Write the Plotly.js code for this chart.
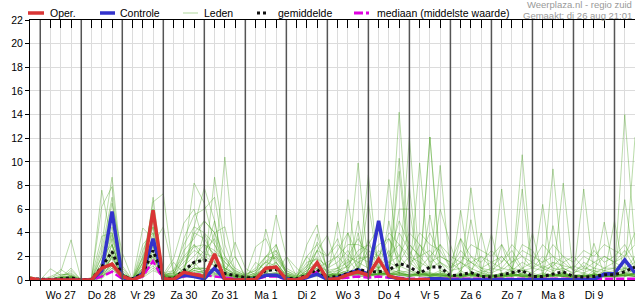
<!DOCTYPE html>
<html><head><meta charset="utf-8">
<script src="https://cdn.plot.ly/plotly-3.0.1.min.js"></script>
<style>html,body{margin:0;padding:0;background:#fff}#chart{width:635px;height:300px}</style>
</head><body><div id="chart"></div>
<script>
// ---- time axis: 6-hourly steps starting Aug 26 18:00 ----
const startUTC = Date.UTC(2025, 7, 26, 18);
const nSteps = 60;
const dayLabels = ["Wo 27","Do 28","Vr 29","Za 30","Zo 31","Ma 1","Di 2","Wo 3","Do 4","Vr 5","Za 6","Zo 7","Ma 8","Di 9"];

// ---- series ----
const oper = [0.15, 0,0,0,0.05, 0,0,1.0,1.35, 0.3,0,0.4,5.9, 0.1,0.05,0.65,0.45, 0.3,2.2,0.05,0, 0,0.05,1.0,1.1, 0.05,0,0.3,1.47, 0.05,0.1,0.45,0.7, 0.4,1.78,0.35,0.1, 0,0,0.05];
const controle = [0.05, 0,0,0,0, 0,0,0.8,5.8, 0.2,0,0.55,3.5, 0.05,0.05,0.4,0.3, 0.1,1.0,0.05,0, 0,0.1,0.4,0.4, 0.1,0,0.2,0.5, 0.05,0.2,0.5,0.85, 0.5,5.0,0.3,0.1, 0,0,0.1,0.1, 0,0,0,0, 0,0,0,0, 0,0,0,0, 0,0,0.05,0.5, 0.55,1.7,0.6];
const gemiddelde = [0.1, 0.05,0.05,0.1,0.2, 0,0.05,1.1,2.4, 0.35,0.1,0.56,2.5, 0.2,0.1,0.8,1.5, 1.7,1.3,0.55,0.4, 0.2,0.2,0.8,0.9, 0.15,0.1,0.4,0.9, 0.2,0.3,0.56,0.9, 0.7,0.7,0.85,1.4, 1.13,0.55,1.1,1.1, 0.35,0.45,0.62,0.3, 0.25,0.45,0.6,0.8, 0.3,0.3,0.5,0.7, 0.3,0.25,0.3,0.45, 0.45,0.7,1.1];
const mediaan = [0.05, 0,0,0,0.05, 0,0,0.3,0.7, 0.1,0,0.3,1.6, 0.05,0.05,0.3,0.5, 0.4,0.3,0.2,0.1, 0,0.05,0.3,0.3, 0.05,0,0.2,0.7, 0.1,0.1,0.2,0.3, 0.2,0.3,0.2,0.2, 0.1,0.1,0.1,0.1, 0.05,0.05,0.1,0.05, 0.05,0.05,0.05,0.05, 0.05,0.05,0.05,0.05, 0.05,0.05,0.05,0.05, 0.05,0.1,0.1];

const lid01 = [0.2, 0,0,0.9,0.3, 0,0,7.6,3.0, 0.5,0,2.0,6.0, 0.5,0.2,1.0,3.0, 1.5,4.0,0.8,0.2, 0,0.5,1.0,0.8, 0.2,0,0.5,1.2, 0.3,0.8,0.4,1.5, 2.0,0.5,0.8,14.2, 2.0,0.8,0.3,0.5, 0.1,0.8,0.3,0.2, 0,0.5,1.0,0.4, 0.2,0.3,1.5,0.5, 0.1,0.2,0.8,0.3, 0.4,1.0,0.5];
const lid02 = [0.1, 0,0.3,0.7,3.4, 0,0,3.0,8.7, 1.0,0,3.0,4.0, 0.3,0,0.5,1.5, 0.5,1.0,10.4,2.0, 0.2,0.1,0.5,1.5, 0.3,0,0.2,0.6, 0.2,0.5,1.8,0.6, 0.3,1.0,2.5,0.5, 12.1,1.0,0.3,0.2, 0.2,0.1,0.5,0.8, 0.3,0.2,0.4,1.0, 0.5,0.2,0.1,0.6, 0.4,0.3,0.2,0.8, 0.5,14.0,3.0];
const lid03 = [0.3, 0,0,0.2,1.0, 0,0.1,6.2,7.9, 0.3,0,4.4,3.5, 0.2,0.1,2.0,8.2, 6.5,3.0,1.0,0.5, 0.1,0.2,0.6,0.4, 0.1,0,1.0,3.9, 0.8,0.3,0.5,0.9, 0.6,0.4,0.7,1.2, 0.8,0.5,12.1,1.5, 0.3,0.2,0.6,0.3, 0.1,0.4,0.8,0.2, 0.3,0.6,0.4,0.3, 0.2,0.1,0.4,0.5, 0.3,0.4,0.6];
const lid04 = [0.1, 0,0.2,0.5,0.4, 0,0,2.5,7.0, 0.4,0,1.0,6.6, 7.3,0.5,0.4,1.0, 0.8,8.7,3.0,0.6, 0.2,0.3,4.3,1.0, 0.2,0,0.4,1.0, 0.4,0.6,1.2,9.9, 1.0,0.3,0.6,0.4, 0.3,0.4,0.8,9.7, 0.5,0.3,0.2,0.4, 0.3,0.6,0.3,0.4, 0.2,0.1,0.3,0.7, 0.2,0.3,0.5,0.4, 0.2,0.6,0.3];
const lid05 = [0.2, 0,0,0.1,0.8, 0,0,2.0,6.5, 2.3,0,0.5,5.3, 0.5,1.8,4.8,6.0, 3.0,1.0,0.5,3.2, 1.0,0.4,0.8,5.5, 2.0,0.3,0.6,2.5, 3.8,1.0,0.5,0.8, 0.4,0.5,1.0,0.6, 0.8,0.3,0.4,0.8, 0.2,0.5,7.8,1.0, 0.4,0.3,0.6,0.8, 0.2,0.4,0.3,0.5, 0.3,0.2,0.6,0.3, 0.5,0.8,0.4];
const lid06 = [0.1, 0,0,0.3,0.2, 0,0,1.5,5.5, 1.2,0,2.5,4.5, 0.4,0.3,0.8,4.5, 7.8,5.0,0.5,0.3, 0.2,0.1,0.5,0.6, 0.3,0.2,0.8,1.5, 0.3,4.9,0.6,0.5, 0.6,0.8,8.5,0.8, 0.4,0.6,0.5,0.3, 0.2,5.9,0.4,0.3, 0.4,0.2,0.5,10.6, 0.6,0.3,0.4,0.3, 0.1,0.5,0.3,0.4, 0.3,0.6,0.8];
const lid07 = [0.2, 0,0,0,0.1, 0,0,1.0,4.5, 0.6,0,2.0,3.5, 0.3,0.2,3.5,5.5, 6.0,7.0,2.0,0.5, 0.3,2.8,3.5,1.5, 0.3,0,0.3,0.8, 0.5,0.3,6.8,0.8, 0.4,0.6,0.5,9.2, 1.0,0.5,0.4,0.6, 0.3,0.2,0.5,0.4, 0.2,0.6,0.3,7.7, 0.4,0.2,0.6,0.3, 0.3,0.4,0.2,0.6, 0.4,0.3,0.5];
const lid08 = [0.1, 0,0,0.1,0.3, 0,0.2,3.7,4.0, 0.8,0,1.5,3.0, 4.5,0.6,0.5,4.0, 5.0,4.0,4.5,0.8, 0.4,0.2,2.0,3.0, 0.6,0.2,2.0,0.8, 0.3,0.5,0.8,0.6, 8.9,0.6,0.4,0.5, 0.3,0.6,0.5,0.4, 0.3,0.6,0.4,0.3, 0.5,0.3,0.6,0.3, 0.4,0.3,9.4,0.6, 0.3,0.2,0.4,0.3, 0.4,0.3,0.5];
const lid09 = [0.2, 0,0,0.4,0.5, 0,0,1.0,3.5, 0.5,0,1.0,2.5, 0.2,0.1,0.6,1.5, 2.0,5.0,0.8,2.0, 0.3,0.2,1.0,2.5, 0.5,0.1,3.0,4.65, 0.6,0.4,0.5,0.3, 0.3,0.5,0.5,0.8, 7.8,0.6,0.4,0.3, 0.4,0.3,0.5,0.4, 0.3,0.2,0.4,0.5, 0.4,6.4,0.3,0.4, 0.3,0.6,0.3,0.2, 0.5,0.4,0.3];
const lid10 = [0.1, 0,0,0.2,0.1, 0,0,0.8,3.0, 0.4,0,0.8,2.0, 0.2,0.3,0.4,1.0, 1.0,0.6,0.4,0.3, 0.2,0.1,0.4,0.5, 0.2,0.1,0.5,3.2, 2.0,3.5,0.6,4.0, 0.6,4.5,0.5,0.6, 0.4,9.9,0.5,0.4, 0.3,0.5,0.4,0.3, 0.2,0.4,0.3,0.6, 0.3,0.2,0.4,8.2, 0.4,0.3,0.5,0.3, 0.6,0.4,0.3];
const lid11 = [0.3, 0,0.95,0.4,0.6, 0,0,0.5,2.5, 0.3,0,0.4,1.5, 0.1,0.2,0.3,0.8, 0.6,0.5,0.3,0.2, 0.1,1.5,0.8,0.6, 0.3,0.1,0.4,0.6, 0.4,0.5,0.8,5.0, 0.6,0.4,5.0,0.6, 0.4,0.5,5.5,0.6, 0.4,0.3,0.5,0.4, 0.3,7.7,0.4,0.3, 0.2,0.3,0.4,0.5, 0.4,7.7,0.4,0.3, 0.3,0.6,0.4];
const lid12 = [0.1, 0,0,0.1,0.2, 0,0,0.4,2.0, 0.2,0,0.3,1.0, 0.3,0.1,0.2,0.6, 0.5,0.3,0.2,0.1, 0,0.3,0.5,0.4, 0.1,0,0.3,0.5, 0.3,0.4,0.6,0.5, 6.5,0.8,0.6,10.3, 1.5,0.8,0.6,0.4, 0.3,0.5,5.1,0.6, 0.4,0.3,0.5,0.4, 0.3,0.2,0.4,0.3, 0.2,0.4,0.3,4.9, 0.6,6.8,1.0];
const lid13 = [0.2, 0,0,0.2,0.4, 0,0,0.2,1.5, 0.2,0,0.2,0.8, 0.4,0.3,1.0,0.5, 0.8,1.0,0.6,0.4, 0.2,0.1,0.3,0.4, 2.0,1.0,0.3,0.5, 0.4,0.3,4.0,0.5, 0.4,0.6,0.5,0.8, 0.6,0.4,0.5,6.0, 3.0,0.4,0.6,0.3, 0.4,0.5,0.3,0.6, 4.0,0.4,0.3,0.5, 0.3,0.2,0.5,0.4, 5.0,0.3,0.6];
const lid14 = [0.1, 0,0,0,0.1, 0,0,0.1,1.0, 0.1,0,0.5,7.0, 0.3,0.2,0.3,0.4, 0.5,0.4,0.3,0.2, 0.1,0.2,0.4,0.3, 0.2,0,0.2,0.4, 0.3,0.2,0.5,0.4, 0.3,0.5,0.6,6.0, 6.0,0.5,0.4,0.3, 0.2,3.5,0.4,4.0, 0.3,0.4,0.5,0.3, 0.2,0.3,4.6,0.4, 0.5,0.3,3.1,0.4, 0.3,0.4,12.1];
const lid15 = [0.2, 0,0,0.3,0.2, 0,0,0.3,0.8, 0.3,0,1.5,6.0, 0.4,0.3,0.8,4.0, 3.5,2.0,1.0,0.4, 0.2,0.3,0.6,0.5, 0.3,0.1,0.5,0.8, 0.4,0.6,0.5,0.6, 0.5,0.4,0.8,0.6, 0.4,0.6,12.1,0.8, 0.4,0.3,0.5,0.6, 0.3,0.2,0.4,0.3, 0.4,0.3,0.5,0.4, 0.3,0.4,0.2,0.3, 0.4,0.5,0.3];
const lid16 = [0.1, 0,0,0.1,0.3, 0,0,0.5,2.0, 0.4,0,0.6,4.0, 0.2,0.4,0.5,1.0, 4.0,1.5,0.6,0.3, 0.2,0.4,0.3,0.6, 0.4,0.2,0.6,2.5, 0.5,0.4,0.6,0.5, 3.5,0.5,0.6,0.4, 0.5,0.4,0.6,0.5, 0.3,0.4,0.6,0.5, 3.9,0.4,0.5,0.3, 0.4,0.3,0.5,0.4, 0.3,0.4,0.3,0.5, 0.4,0.6,0.5];
const lid17 = [0.2, 0,0,0.2,0.2, 0,0,0.3,1.5, 0.2,0,0.5,3.0, 0.3,1.5,0.6,0.8, 1.0,0.8,0.5,0.4, 0.2,0.1,0.3,0.4, 0.2,0.1,0.3,0.5, 0.3,0.2,0.4,0.6, 0.5,0.4,0.6,0.5, 0.3,0.5,0.4,0.6, 0.4,0.3,0.4,0.5, 0.3,3.0,0.4,0.5, 0.3,0.4,0.3,0.6, 0.3,0.2,0.5,0.4, 0.3,0.4,0.6];
const lid18 = [0.1, 0,0,0,0.2, 0,0,0.2,1.2, 0.1,0,0.3,2.5, 0.2,0.1,0.4,0.6, 0.8,0.6,0.4,0.2, 0.1,0.2,0.3,0.3, 0.1,0,0.2,0.3, 0.2,0.3,0.4,0.3, 0.4,0.3,0.5,0.4, 0.3,0.4,0.3,0.5, 0.3,0.2,0.4,0.3, 0.2,0.3,0.4,0.3, 0.2,0.3,0.4,0.3, 0.2,0.3,0.2,0.4, 0.3,0.4,0.3];
const lid19 = [0.1, 0,0,0.1,0.1, 0,0,0.4,2.0, 0.3,0,1.0,3.5, 0.3,0.2,0.5,1.0, 1.0,0.8,0.5,0.3, 0.2,0.2,0.3,3.0, 0.4,0.1,0.3,0.6, 0.4,0.3,0.6,0.5, 0.4,0.6,0.5,0.4, 0.5,0.3,0.4,0.5, 0.3,0.4,0.3,0.4, 0.3,0.4,0.3,0.5, 0.3,0.4,0.5,0.3, 0.4,0.3,0.4,0.3, 0.3,0.4,0.5];
const lid20 = [0.2, 0,0,0.1,0.3, 0,0,0.6,3.0, 0.5,0,0.4,2.0, 0.2,0.3,0.4,0.8, 0.6,0.5,0.4,0.3, 0.2,0.3,0.4,0.5, 0.2,0.1,0.4,0.7, 0.3,0.4,0.3,0.5, 0.4,0.5,0.4,0.6, 0.4,0.5,0.3,0.4, 0.3,0.4,0.5,0.3, 0.4,0.3,0.5,0.4, 0.3,0.5,0.4,0.3, 0.4,0.3,0.5,0.4, 0.3,0.5,0.4];
const lid21 = [0.2, 0,0,0.1,0.2, 0,0,1.2,2.5, 0.6,0,0.8,1.8, 0.5,0.6,1.5,2.5, 2.0,1.5,1.0,0.5, 0.3,0.6,1.5,1.2, 0.5,0.2,0.8,1.5, 0.6,1.0,1.5,2.0, 1.5,1.0,2.0,3.0, 1.5,2.0,1.0,1.5, 0.8,1.0,1.5,0.8, 0.6,1.0,0.8,1.5, 1.0,0.8,1.2,2.0, 0.8,0.6,1.0,0.8, 1.0,1.5,1.0];
const lid22 = [0.1, 0,0,0.2,0.1, 0,0,0.8,1.8, 0.4,0,0.6,2.8, 0.4,0.5,1.2,2.0, 3.0,2.5,1.5,0.6, 0.4,0.8,2.0,1.8, 0.6,0.3,1.0,2.0, 1.0,1.5,2.5,1.0, 2.5,1.5,1.0,4.0, 2.5,1.0,2.0,1.0, 0.6,1.5,1.0,0.6, 1.0,2.0,1.0,0.8, 0.6,1.2,0.8,1.0, 0.6,1.0,0.8,0.6, 0.8,1.0,1.5];
const lid23 = [0.1, 0,0,0.1,0.2, 0,0,0.5,1.2, 0.3,0,0.4,1.6, 0.3,0.4,0.8,1.5, 2.5,3.5,1.2,0.5, 0.3,0.5,1.0,1.5, 0.4,0.2,0.6,1.0, 1.5,2.0,1.0,1.8, 2.0,1.0,1.5,2.0, 1.0,3.0,1.5,2.0, 1.5,0.8,2.0,1.0, 0.8,1.5,2.5,1.0, 1.5,1.0,0.6,1.5, 0.8,1.2,0.6,1.0, 1.0,0.8,2.0];
const lid24 = [0.2, 0,0,0,0.1, 0,0,0.3,1.0, 0.2,0,0.5,1.2, 0.2,0.3,0.6,1.2, 1.8,1.2,0.8,0.4, 0.2,0.4,0.8,1.0, 0.3,0.1,0.5,1.2, 0.8,1.0,2.0,1.5, 1.0,2.5,1.5,1.0, 2.0,1.5,1.0,3.0, 1.0,2.0,1.5,1.0, 1.5,1.0,2.0,0.8, 1.0,2.0,1.0,0.8, 1.2,0.8,1.5,2.0, 1.5,2.5,1.0];
const lid25 = [0.1, 0,0,0.1,0.1, 0,0,0.6,2.2, 0.4,0,1.2,2.2, 0.3,0.8,2.0,3.0, 2.2,2.0,0.8,0.3, 0.2,0.3,1.2,2.0, 0.8,0.3,1.5,1.8, 0.6,0.8,1.2,2.5, 3.0,2.0,3.5,1.5, 3.0,2.0,2.5,1.5, 1.0,1.5,0.8,2.0, 1.0,0.8,1.5,2.0, 1.0,1.5,2.0,1.0, 0.5,1.5,1.0,2.0, 1.5,1.0,0.8];
const lid26 = [0.1, 0,0,0.2,0.3, 0,0,1.5,4.0, 0.6,0,1.8,3.0, 0.6,0.8,3.0,4.5, 4.0,3.0,1.5,0.8, 0.4,1.0,2.0,2.5, 1.0,0.5,2.0,3.0, 1.0,2.5,4.0,2.0, 3.0,4.5,2.0,5.0, 3.0,2.0,4.0,2.0, 1.5,3.5,2.0,1.5, 2.5,1.5,3.0,2.0, 1.5,3.0,2.0,1.5, 2.0,1.0,2.5,1.5, 2.0,3.0,1.5];
const lid27 = [0.2, 0,0,0.1,0.2, 0,0,2.0,3.0, 0.5,0,1.4,4.5, 0.5,0.5,2.5,3.5, 5.0,4.0,2.0,1.0, 0.5,0.8,1.5,2.0, 0.6,0.3,1.2,2.5, 2.0,3.0,2.0,3.5, 2.0,3.0,3.5,2.0, 4.0,3.0,2.0,3.0, 2.0,1.5,3.0,2.5, 2.0,3.0,1.5,2.5, 2.0,1.5,3.0,2.0, 1.5,2.5,2.0,3.0, 2.5,2.0,4.0];
const lid28 = [0.1, 0,0,0.1,0.1, 0,0,0.9,3.8, 0.3,0,0.9,5.0, 0.4,0.6,1.8,2.8, 3.0,2.2,1.8,0.7, 0.3,0.6,1.6,2.2, 0.8,0.4,1.2,1.8, 1.2,2.0,3.0,3.0, 2.5,2.0,4.0,3.0, 2.0,4.0,3.0,2.5, 1.0,2.5,1.5,2.0, 1.5,2.0,1.0,3.0, 2.5,1.0,1.5,1.2, 1.0,2.0,1.5,1.0, 1.5,2.0,3.0];

const leden = [lid01,lid02,lid03,lid04,lid05,lid06,lid07,lid08,lid09,lid10,lid11,lid12,lid13,lid14,
               lid15,lid16,lid17,lid18,lid19,lid20,lid21,lid22,lid23,lid24,lid25,lid26,lid27,lid28];

// ---- build time strings ----
function fmt(ms){
  const d = new Date(ms);
  const p = n => String(n).padStart(2,'0');
  return d.getUTCFullYear()+'-'+p(d.getUTCMonth()+1)+'-'+p(d.getUTCDate())+' '+p(d.getUTCHours())+':00';
}
const times = [], hours = [];
for (let i = 0; i < nSteps; i++) {
  const ms = startUTC + i*6*3600*1000;
  times.push(fmt(ms));
  hours.push(new Date(ms).getUTCHours());
}
const tickText = [];
let k = 0;
for (let i = 0; i < nSteps; i++) tickText.push(hours[i] === 12 ? dayLabels[k++] : '');
const midnights = times.filter((t, i) => hours[i] === 0);

const FONT = 'Liberation Sans, Arial, sans-serif';
const traces = [];
leden.forEach(m => traces.push({
  x: times, y: m, type: 'scatter', mode: 'lines', hoverinfo: 'skip', showlegend: false,
  line: {color: 'rgba(70,160,30,0.38)', width: 1}
}));
traces.push({x: times, y: mediaan, type:'scatter', mode:'lines', showlegend:false,
  line:{color:'#e000e0', width:2.5, dash:'8px,3px'}});
traces.push({x: times, y: controle, type:'scatter', mode:'lines', showlegend:false,
  line:{color:'#3333cc', width:3.5}});
traces.push({x: times, y: gemiddelde, type:'scatter', mode:'lines', showlegend:false,
  line:{color:'#111', width:3, dash:'dot'}});
traces.push({x: times.slice(0, oper.length), y: oper, type:'scatter', mode:'lines', showlegend:false,
  line:{color:'#d93535', width:3.5}});
// helper trace so the top (mirrored) axis exists
traces.push({x: [times[0]], y: [0], xaxis:'x2', type:'scatter', mode:'lines', showlegend:false,
  hoverinfo:'skip', line:{width:0}});

// ---- layout helpers (pixel -> paper) ----
const L = 30, R = 0, T = 20, B = 20, W = 635, H = 300;
const px = v => (v - L) / (W - L - R);
const py = v => (H - B - v) / (H - T - B);

const shapes = midnights.map(t => ({type:'line', xref:'x', yref:'paper', x0:t, x1:t, y0:0, y1:1,
  line:{color:'#555', width:1.5}, layer:'above'}));

const legendItems = [
  {x0:28, x1:44, color:'#d93535', width:3.5, dash:'solid', text:'Oper.', tx:48},
  {x0:100, x1:115, color:'#3333cc', width:3.5, dash:'solid', text:'Controle', tx:118},
  {x0:183, x1:198, color:'rgb(175,215,155)', width:1, dash:'solid', text:'Leden', tx:202},
  {x0:257, x1:269, color:'#111', width:3, dash:'dot', text:'gemiddelde', tx:276},
  {x0:354, x1:369, color:'#e000e0', width:3, dash:'dashdot', text:'mediaan (middelste waarde)', tx:375}
];
const annotations = [];
legendItems.forEach(it => {
  shapes.push({type:'line', xref:'paper', yref:'paper', x0:px(it.x0), x1:px(it.x1), y0:py(13), y1:py(13),
    line:{color:it.color, width:it.width, dash:it.dash}});
  annotations.push({xref:'paper', yref:'paper', x:px(it.tx), y:py(13), xanchor:'left', yanchor:'middle',
    text:it.text, showarrow:false, font:{family:FONT, size:10.5, color:'#000'}});
});
annotations.push({xref:'paper', yref:'paper', x:px(634), y:py(5), xanchor:'right', yanchor:'middle',
  text:'Weerplaza.nl - regio zuid', showarrow:false, font:{family:FONT, size:9.5, color:'#999'}});
annotations.push({xref:'paper', yref:'paper', x:px(634), y:py(15), xanchor:'right', yanchor:'middle',
  text:'Gemaakt: di 26 aug 21:01', showarrow:false, font:{family:FONT, size:9.5, color:'#999'}});

const layout = {
  width: W, height: H, margin:{l:L, r:R, t:T, b:B, pad:0},
  paper_bgcolor:'#fff', plot_bgcolor:'#fff', showlegend:false,
  font:{family:FONT, size:10.5, color:'#000'},
  xaxis:{type:'date', range:[times[0], times[nSteps-1]], tickmode:'array', tickvals:times, ticktext:tickText,
    ticks:'outside', ticklen:5, tickcolor:'#000', tickwidth:1, showgrid:true, gridcolor:'#dcdcdc', gridwidth:1,
    showline:true, linecolor:'#000', linewidth:1, zeroline:false, tickfont:{family:FONT, size:10.5}},
  xaxis2:{type:'date', overlaying:'x', side:'top', anchor:'y', range:[times[0], times[nSteps-1]],
    tickmode:'array', tickvals:times, ticktext:times.map(()=>''), ticks:'inside', ticklen:8, tickcolor:'#000',
    showgrid:false, showline:true, linecolor:'#000', linewidth:1, zeroline:false, showticklabels:false},
  yaxis:{range:[0,22], dtick:2, tick0:0, ticks:'outside', ticklen:4, tickcolor:'#000', showgrid:true,
    gridcolor:'#dcdcdc', gridwidth:1, showline:true, linecolor:'#000', linewidth:1, zeroline:false,
    tickfont:{family:FONT, size:10.5}},
  shapes: shapes, annotations: annotations
};
Plotly.newPlot('chart', traces, layout, {displayModeBar:false, staticPlot:true});
</script></body></html>
